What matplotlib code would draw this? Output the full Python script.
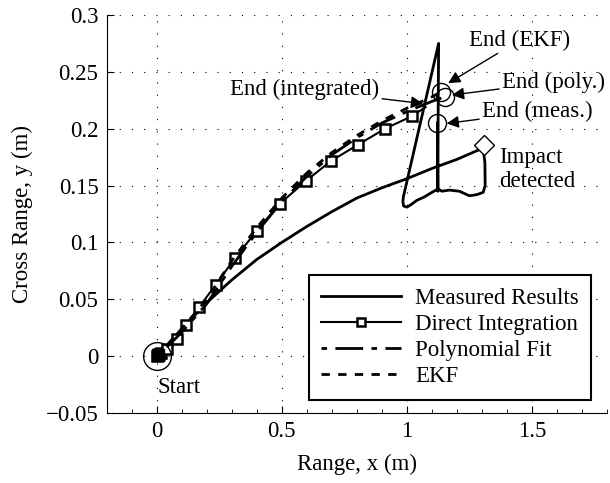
import numpy as np
import matplotlib
matplotlib.use("Agg")
import matplotlib.pyplot as plt
from matplotlib.ticker import MultipleLocator

plt.rcParams['font.family'] = ['Liberation Serif', 'DejaVu Serif']
plt.rcParams['font.size'] = 16.5

# measured trajectory (main flight, then the post-impact wander)
x_meas = [0, 0.1, 0.2, 0.3, 0.4, 0.5, 0.6, 0.7, 0.8, 0.9, 1.0, 1.1, 1.2, 1.305,
          1.312, 1.313, 1.305, 1.28, 1.25, 1.21, 1.17, 1.14, 1.125, 1.1, 1.07,
          1.04, 1.015, 1.0, 0.987, 0.984, 0.986, 1.127, 1.125, 1.124, 1.122]
y_meas = [0, 0.024, 0.047, 0.067, 0.085, 0.1, 0.114, 0.127, 0.139, 0.148, 0.156, 0.165, 0.173, 0.183,
          0.17, 0.15, 0.144, 0.142, 0.141, 0.145, 0.146, 0.145, 0.147, 0.144, 0.14,
          0.137, 0.133, 0.131, 0.132, 0.136, 0.14, 0.275, 0.21, 0.145, 0.205]

# direct integration (squares)
x_int = [0, 0.003, 0.008, 0.016, 0.04, 0.079, 0.116, 0.169, 0.235, 0.312, 0.399,
         0.492, 0.596, 0.696, 0.805, 0.913, 1.02, 1.075]
y_int = [0, 0.001, 0.002, 0.003, 0.006, 0.015, 0.027, 0.043, 0.0625, 0.086, 0.110,
         0.134, 0.154, 0.1715, 0.186, 0.200, 0.211, 0.219]

# polynomial fit
x_poly = [0, 0.05, 0.1, 0.2, 0.3, 0.4, 0.5, 0.6, 0.7, 0.8, 0.9, 1.0, 1.1, 1.152]
y_poly = [0, 0.010, 0.021, 0.046, 0.079, 0.109, 0.136, 0.158, 0.177, 0.192, 0.205, 0.215, 0.224, 0.228]

# EKF
x_ekf = [0, 0.05, 0.1, 0.2, 0.3, 0.4, 0.5, 0.6, 0.7, 0.8, 0.9, 1.0, 1.1, 1.138]
y_ekf = [0, 0.011, 0.024, 0.050, 0.084, 0.113, 0.139, 0.161, 0.179, 0.194, 0.207, 0.218, 0.228, 0.2325]

impact = (1.31, 0.186)

fig = plt.figure(figsize=(6.1, 4.83), dpi=100)
ax = fig.add_axes([0.175, 0.145, 0.82, 0.824])

ax.plot(x_meas, y_meas, '-', color='k', lw=2, label='Measured Results')
ax.plot(x_int, y_int, '-', color='k', lw=1.5, marker='s', markersize=7.5,
        mfc='white', mec='k', mew=1.8, markevery=slice(0, len(x_int) - 1),
        label='Direct Integration')
ax.plot(x_poly, y_poly, '-.', color='k', lw=2, dashes=(2, 3, 10, 3), label='Polynomial Fit')
ax.plot(x_ekf, y_ekf, '--', color='k', lw=2, dashes=(3, 3), label='EKF')

# start / end markers
ax.plot(0, 0, 'o', mfc='none', mec='k', markersize=20, mew=1)
ax.plot(0.004, 0.001, 's', color='k', markersize=9)
ax.plot(x_ekf[-1], y_ekf[-1], 'o', mfc='none', mec='k', markersize=13, mew=1)
ax.plot(x_poly[-1], y_poly[-1], 'o', mfc='none', mec='k', markersize=13, mew=1)
ax.plot(x_meas[-1], y_meas[-1], 'o', mfc='none', mec='k', markersize=13, mew=1)
ax.plot(*impact, 'D', mfc='white', mec='k', markersize=10, mew=1)

arrow = dict(arrowstyle='-|>', color='k', lw=1, mutation_scale=18, shrinkA=0, shrinkB=0)
ax.annotate('End (EKF)', xy=(1.165, 0.240), xytext=(1.25, 0.278), va='center', ha='left',
            arrowprops=arrow)
ax.annotate('End (poly.)', xy=(1.18, 0.2296), xytext=(1.38, 0.241), va='center', ha='left',
            arrowprops=arrow)
ax.annotate('End (meas.)', xy=(1.159, 0.2046), xytext=(1.30, 0.215), va='center', ha='left',
            arrowprops=arrow)
ax.annotate('End (integrated)', xy=(1.065, 0.222), xytext=(0.89, 0.2345), va='center', ha='right',
            arrowprops=arrow)
ax.text(1.37, 0.164, 'Impact\ndetected', va='center', ha='left', linespacing=1.2)
ax.text(0.004, -0.028, 'Start', va='center', ha='left')

ax.set_xlim(-0.2, 1.8)
ax.set_ylim(-0.05, 0.3)
ax.set_xticks([0, 0.5, 1, 1.5])
ax.set_xticklabels(['0', '0.5', '1', '1.5'])
ax.set_yticks([-0.05, 0, 0.05, 0.1, 0.15, 0.2, 0.25, 0.3])
ax.set_yticklabels(['\u22120.05', '0', '0.05', '0.1', '0.15', '0.2', '0.25', '0.3'])
ax.xaxis.set_minor_locator(MultipleLocator(0.1))
ax.tick_params(which='both', direction='in', top=False, right=False)
ax.tick_params(which='major', length=5, pad=6)
ax.tick_params(which='minor', length=3)
ax.grid(True, which='major', linestyle=(0, (1, 10)), color='k', lw=0.8)
ax.spines['top'].set_visible(False)
ax.spines['right'].set_visible(False)

ax.set_xlabel('Range, x (m)')
ax.set_ylabel('Cross Range, y (m)')
ax.xaxis.set_label_coords(0.5, -0.103)
ax.yaxis.set_label_coords(-0.148, 0.5)

leg = ax.legend(loc='lower right', bbox_to_anchor=(0.969, 0.033), fancybox=False,
                framealpha=1, edgecolor='k', handlelength=3.5, handletextpad=0.6,
                labelspacing=0.22, borderpad=0.55, borderaxespad=0, markerscale=0.8)
leg.get_frame().set_linewidth(1.5)

fig.savefig('out.png', dpi=100)
